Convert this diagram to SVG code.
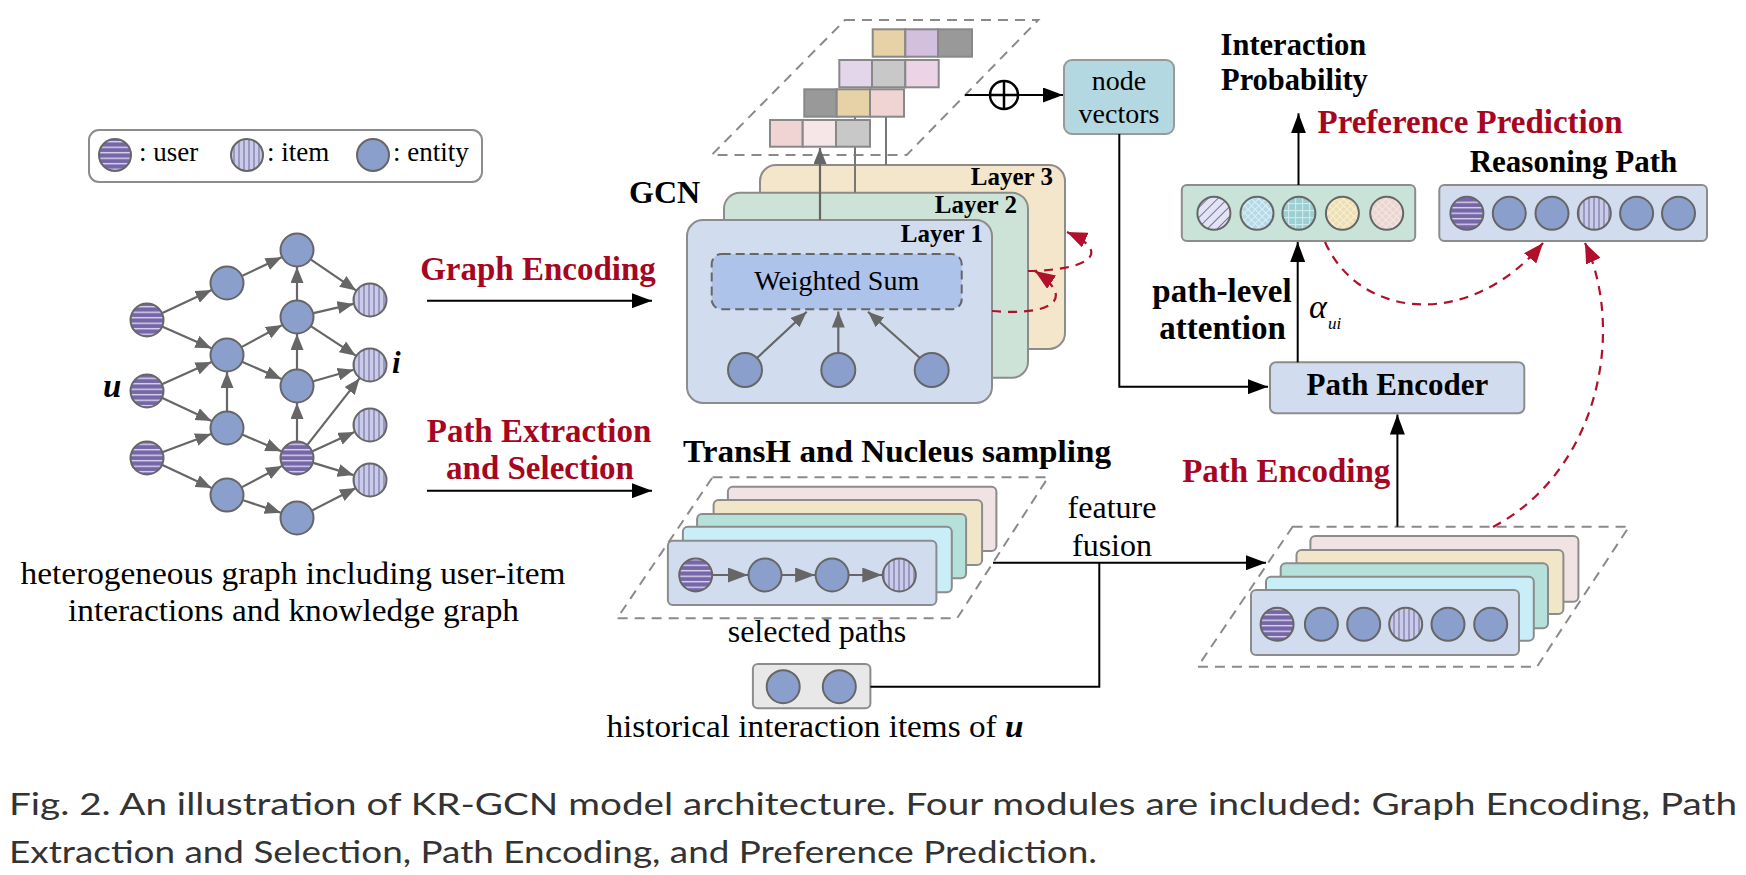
<svg xmlns="http://www.w3.org/2000/svg" width="1746" height="875" viewBox="0 0 1746 875">
<style>
.t{font-family:"Liberation Serif","Times New Roman",serif;fill:#000}
.b{font-weight:bold}
.red{fill:#a6061f}
.cap{font-family:Lato,"Open Sans","Liberation Sans",sans-serif;fill:#333;font-size:30px}
.ge{stroke:#666;stroke-width:2.2;fill:none}
.nd{stroke:#666;stroke-width:2}
.ent{fill:#8a9fcb}
.usr{fill:url(#pu)}
.itm{fill:url(#pi)}
.box{stroke:#8c8c8c;stroke-width:2}
.par{fill:none;stroke:#8a8a8a;stroke-width:2;stroke-dasharray:10 7}
.bl{stroke:#000;stroke-width:2;fill:none}
.rd{stroke:#b0102a;stroke-width:2.2;fill:none;stroke-dasharray:9 7}
.cell{stroke:#888;stroke-width:2}
</style>
<defs>
<pattern id="pu" patternUnits="userSpaceOnUse" width="8" height="5.5"><rect width="8" height="5.5" fill="#7566a8"/><rect y="3.6" width="8" height="1.3" fill="#e3ddf4"/></pattern>
<pattern id="pi" patternUnits="userSpaceOnUse" width="5" height="8"><rect width="5" height="8" fill="#c9cbe8"/><rect x="3.4" width="1.2" height="8" fill="#7c79a8"/></pattern>
<pattern id="p1" patternUnits="userSpaceOnUse" width="7" height="7" patternTransform="rotate(45)"><rect width="7" height="7" fill="#e2e4f3"/><rect width="1" height="7" fill="#7a70a6"/></pattern>
<pattern id="p2" patternUnits="userSpaceOnUse" width="5" height="5" patternTransform="rotate(45)"><rect width="5" height="5" fill="#b5d9e6"/><rect width="1" height="5" fill="#dbeff6"/><rect width="5" height="1" fill="#dbeff6"/></pattern>
<pattern id="p3" patternUnits="userSpaceOnUse" width="7" height="7"><rect width="7" height="7" fill="#9ccfd1"/><rect width="1.2" height="7" fill="#cde9ea"/><rect width="7" height="1.2" fill="#cde9ea"/></pattern>
<pattern id="p4" patternUnits="userSpaceOnUse" width="5" height="5" patternTransform="rotate(45)"><rect width="5" height="5" fill="#ecdfb2"/><rect width="1" height="5" fill="#f8f0da"/><rect width="5" height="1" fill="#f8f0da"/></pattern>
<pattern id="p5" patternUnits="userSpaceOnUse" width="5" height="5" patternTransform="rotate(45)"><rect width="5" height="5" fill="#ead5d0"/><rect width="1" height="5" fill="#f3e6e3"/><rect width="5" height="1" fill="#f3e6e3"/></pattern>
<marker id="ag" markerUnits="userSpaceOnUse" markerWidth="16" markerHeight="13" refX="16" refY="6.5" orient="auto"><path d="M0,0 L16,6.5 L0,13 z" fill="#666"/></marker>
<marker id="ag2" markerUnits="userSpaceOnUse" markerWidth="20" markerHeight="15" refX="20" refY="7.5" orient="auto"><path d="M0,0 L20,7.5 L0,15 z" fill="#666"/></marker>
<marker id="ab" markerUnits="userSpaceOnUse" markerWidth="20" markerHeight="15" refX="20" refY="7.5" orient="auto"><path d="M0,0 L20,7.5 L0,15 z" fill="#000"/></marker>
<marker id="ar" markerUnits="userSpaceOnUse" markerWidth="20" markerHeight="16" refX="20" refY="8" orient="auto"><path d="M0,0 L20,8 L0,16 z" fill="#b0102a"/></marker>
</defs>
<rect width="1746" height="875" fill="#fff"/>

<!-- Legend -->
<g id="legend">
<rect x="89" y="130" width="393" height="52" rx="10" fill="#fff" stroke="#8c8c8c" stroke-width="2"/>
<circle cx="115" cy="155" r="16" class="nd usr"/>
<text x="139" y="161" class="t" font-size="27">: user</text>
<circle cx="247" cy="155" r="16" class="nd itm"/>
<text x="267" y="161" class="t" font-size="27">: item</text>
<circle cx="373" cy="155" r="16" class="nd ent"/>
<text x="393" y="161" class="t" font-size="27">: entity</text>
</g>

<!-- heterogeneous graph -->
<g id="graph-edges">
<line x1="162.4" y1="312.9" x2="211.6" y2="290.1" class="ge" marker-end="url(#ag)"/>
<line x1="162.6" y1="326.8" x2="211.4" y2="348.2" class="ge" marker-end="url(#ag)"/>
<line x1="162.5" y1="384" x2="211.5" y2="362" class="ge" marker-end="url(#ag)"/>
<line x1="162.4" y1="398.1" x2="211.6" y2="420.9" class="ge" marker-end="url(#ag)"/>
<line x1="162.9" y1="452" x2="211.1" y2="434" class="ge" marker-end="url(#ag)"/>
<line x1="162.4" y1="465.1" x2="211.6" y2="487.9" class="ge" marker-end="url(#ag)"/>
<line x1="242.4" y1="275.8" x2="281.6" y2="257.2" class="ge" marker-end="url(#ag)"/>
<line x1="241.9" y1="346.9" x2="282.1" y2="325.1" class="ge" marker-end="url(#ag)"/>
<line x1="242.5" y1="361.9" x2="281.5" y2="379.1" class="ge" marker-end="url(#ag)"/>
<line x1="227" y1="411.5" x2="227" y2="372" class="ge" marker-end="url(#ag)"/>
<line x1="242.6" y1="434.7" x2="281.4" y2="451.3" class="ge" marker-end="url(#ag)"/>
<line x1="242" y1="487.1" x2="282" y2="465.9" class="ge" marker-end="url(#ag)"/>
<line x1="243.2" y1="500.3" x2="280.8" y2="512.7" class="ge" marker-end="url(#ag)"/>
<line x1="311" y1="259.6" x2="356" y2="290.4" class="ge" marker-end="url(#ag)"/>
<line x1="297" y1="300.5" x2="297" y2="267" class="ge" marker-end="url(#ag)"/>
<line x1="313.5" y1="313.1" x2="353.5" y2="303.9" class="ge" marker-end="url(#ag)"/>
<line x1="311.2" y1="326.3" x2="355.8" y2="355.7" class="ge" marker-end="url(#ag)"/>
<line x1="297" y1="369.5" x2="297" y2="334" class="ge" marker-end="url(#ag)"/>
<line x1="313.3" y1="381.3" x2="353.7" y2="369.7" class="ge" marker-end="url(#ag)"/>
<line x1="297" y1="441.5" x2="297" y2="403" class="ge" marker-end="url(#ag)"/>
<line x1="307.5" y1="444.6" x2="359.5" y2="378.4" class="ge" stroke-width="1.5" marker-end="url(#ag)"/>
<line x1="312.5" y1="451.2" x2="354.5" y2="432" class="ge" marker-end="url(#ag)"/>
<line x1="313.3" y1="462.9" x2="353.7" y2="475.1" class="ge" marker-end="url(#ag)"/>
<line x1="312.1" y1="510.4" x2="355.9" y2="487.9" class="ge" marker-end="url(#ag)"/>
</g>
<g id="graph-nodes">
<circle cx="147" cy="320" r="16.5" class="nd usr"/>
<circle cx="147" cy="391" r="16.5" class="nd usr"/>
<circle cx="147" cy="458" r="16.5" class="nd usr"/>
<circle cx="227" cy="283" r="16.5" class="nd ent"/>
<circle cx="227" cy="355" r="16.5" class="nd ent"/>
<circle cx="227" cy="428" r="16.5" class="nd ent"/>
<circle cx="227" cy="495" r="16.5" class="nd ent"/>
<circle cx="297" cy="250" r="16.5" class="nd ent"/>
<circle cx="297" cy="317" r="16.5" class="nd ent"/>
<circle cx="297" cy="386" r="16.5" class="nd ent"/>
<circle cx="297" cy="458" r="16.5" class="nd usr"/>
<circle cx="297" cy="518" r="16.5" class="nd ent"/>
<circle cx="370" cy="300" r="16.5" class="nd itm"/>
<circle cx="370" cy="365" r="16.5" class="nd itm"/>
<circle cx="370" cy="425" r="16.5" class="nd itm"/>
<circle cx="370" cy="480" r="16.5" class="nd itm"/>
<text x="103" y="397" class="t b" font-size="33" font-style="italic">u</text>
<text x="392" y="373" class="t b" font-size="31" font-style="italic">i</text>
</g>
<g id="graph-caption">
<text x="293" y="584" class="t" font-size="31" text-anchor="middle" textLength="545" lengthAdjust="spacingAndGlyphs">heterogeneous graph including user-item</text>
<text x="293.5" y="620.5" class="t" font-size="31" text-anchor="middle" textLength="451" lengthAdjust="spacingAndGlyphs">interactions and knowledge graph</text>
</g>

<!-- stage labels -->
<g id="graph-encoding-label">
<text x="538" y="280" class="t b red" font-size="33" text-anchor="middle">Graph Encoding</text>
</g>
<g id="path-extraction-label">
<text x="539" y="441.7" class="t b red" font-size="33" text-anchor="middle">Path Extraction</text>
<text x="540" y="479.3" class="t b red" font-size="33" text-anchor="middle">and Selection</text>
</g>

<!-- GCN -->
<g id="gcn">
<text x="629" y="203" class="t b" font-size="32">GCN</text>
<rect x="760" y="165" width="305" height="184" rx="16" fill="#f3e6ca" class="box"/>
<text x="1053" y="185" class="t b" font-size="25" text-anchor="end">Layer 3</text>
<rect x="724" y="192.7" width="304" height="185" rx="16" fill="#cde3d8" class="box"/>
<text x="1017" y="213" class="t b" font-size="25" text-anchor="end">Layer 2</text>
<rect x="687" y="220" width="305" height="183" rx="16" fill="#d1ddee" class="box"/>
<text x="983" y="242" class="t b" font-size="25" text-anchor="end">Layer 1</text>
<rect x="711.7" y="254" width="250" height="55.3" rx="10" fill="#aec3ea" stroke="#666" stroke-width="2" stroke-dasharray="9 5"/>
<text x="836.7" y="290" class="t" font-size="28" text-anchor="middle">Weighted Sum</text>
<line x1="757" y1="358" x2="806.7" y2="311.7" class="ge" marker-end="url(#ag)"/>
<line x1="838.3" y1="353" x2="838.3" y2="311.5" class="ge" marker-end="url(#ag)"/>
<line x1="920" y1="358" x2="868" y2="311.7" class="ge" marker-end="url(#ag)"/>
<circle cx="745" cy="370" r="17" class="nd ent"/>
<circle cx="838.3" cy="370" r="17" class="nd ent"/>
<circle cx="931.7" cy="370" r="17" class="nd ent"/>
</g>

<!-- embedding stack -->
<g id="embeddings">
<path d="M845,20 L1038.3,20 L906.7,155 L711.7,155 Z" class="par"/>
<line x1="820" y1="220" x2="820" y2="148" class="ge" marker-end="url(#ag)"/>
<line x1="855" y1="192.7" x2="855" y2="116.7" stroke="#777" stroke-width="2"/>
<line x1="886" y1="165" x2="886" y2="116.7" stroke="#777" stroke-width="2"/>
<rect x="872.7" y="29.3" width="32.6" height="27.4" fill="#e6d2a6" class="cell"/>
<rect x="905.3" y="29.3" width="32.7" height="27.4" fill="#d3c0de" class="cell"/>
<rect x="938" y="29.3" width="34" height="27.4" fill="#999" class="cell"/>
<rect x="839.3" y="60" width="32.7" height="27.3" fill="#e3d6ea" class="cell"/>
<rect x="872" y="60" width="33.3" height="27.3" fill="#c8c8c8" class="cell"/>
<rect x="905.3" y="60" width="33.4" height="27.3" fill="#ecd4e6" class="cell"/>
<rect x="804.3" y="89.3" width="32.4" height="27.4" fill="#999" class="cell"/>
<rect x="836.7" y="89.3" width="33.3" height="27.4" fill="#e6d2a6" class="cell"/>
<rect x="870" y="89.3" width="34" height="27.4" fill="#f0d4d4" class="cell"/>
<rect x="770" y="120" width="32.7" height="26.7" fill="#f0d4d4" class="cell"/>
<rect x="802.7" y="120" width="33.3" height="26.7" fill="#f6e6e8" class="cell"/>
<rect x="836" y="120" width="34" height="26.7" fill="#c8c8c8" class="cell"/>
</g>

<!-- node vectors -->
<g id="node-vectors">
<rect x="1064" y="60" width="110" height="74" rx="8" fill="#b4d8e1" stroke="#999" stroke-width="2"/>
<text x="1119" y="90" class="t" font-size="28" text-anchor="middle">node</text>
<text x="1119" y="123" class="t" font-size="28" text-anchor="middle">vectors</text>
</g>

<!-- preference prediction -->
<g id="interaction-probability">
<text x="1220.6" y="55" class="t b" font-size="30.5">Interaction</text>
<text x="1221" y="90" class="t b" font-size="30.5">Probability</text>
<text x="1317.5" y="133.3" class="t b red" font-size="33">Preference Prediction</text>
</g>
<g id="prob-vector">
<rect x="1181.8" y="185" width="233.4" height="56" rx="5" fill="#c9e3d8" class="box"/>
<circle cx="1213.9" cy="213.3" r="16.5" class="nd" fill="url(#p1)"/>
<circle cx="1257" cy="213.3" r="16.5" class="nd" fill="url(#p2)"/>
<circle cx="1298.9" cy="213.3" r="16.5" class="nd" fill="url(#p3)"/>
<circle cx="1342.4" cy="213.3" r="16.5" class="nd" fill="url(#p4)"/>
<circle cx="1386.7" cy="213.3" r="16.5" class="nd" fill="url(#p5)"/>
</g>
<g id="reasoning-path">
<text x="1469.7" y="171.7" class="t b" font-size="31">Reasoning Path</text>
<rect x="1439.3" y="185" width="267.7" height="56" rx="5" fill="#d1ddee" class="box"/>
<circle cx="1466.9" cy="213.3" r="16.5" class="nd usr"/>
<circle cx="1509.3" cy="213.3" r="16.5" class="nd ent"/>
<circle cx="1552" cy="213.3" r="16.5" class="nd ent"/>
<circle cx="1594.3" cy="213.3" r="16.5" class="nd itm"/>
<circle cx="1636.6" cy="213.3" r="16.5" class="nd ent"/>
<circle cx="1678.5" cy="213.3" r="16.5" class="nd ent"/>
</g>
<g id="attention-label">
<text x="1222" y="302" class="t b" font-size="33" text-anchor="middle">path-level</text>
<text x="1222.6" y="339" class="t b" font-size="33" text-anchor="middle">attention</text>
<text x="1309" y="318" class="t" font-size="34" font-style="italic">α</text>
<text x="1328" y="329" class="t" font-size="17" font-style="italic">ui</text>
</g>

<!-- path encoder -->
<g id="path-encoder">
<rect x="1270" y="362.3" width="254.3" height="51" rx="6" fill="#d1ddee" class="box"/>
<text x="1397.4" y="395" class="t b" font-size="31" text-anchor="middle">Path Encoder</text>
</g>
<g id="path-encoding-label">
<text x="1182.2" y="482.3" class="t b red" font-size="33">Path Encoding</text>
</g>

<!-- encoded paths -->
<g id="encoded-paths">
<path d="M1292.6,526.7 L1629,526.7 L1537,666.7 L1197.7,666.7 Z" class="par"/>
<rect x="1310.4" y="536" width="268" height="65.7" rx="5" fill="#f1e3e3" class="box"/>
<rect x="1296.5" y="550" width="266.9" height="64" rx="5" fill="#f2e6c9" class="box"/>
<rect x="1280.7" y="563.3" width="267.3" height="65" rx="5" fill="#b6e0da" class="box"/>
<rect x="1266" y="576.7" width="267.8" height="64" rx="5" fill="#caeef7" class="box"/>
<rect x="1251" y="590" width="268" height="65" rx="5" fill="#d1ddee" class="box"/>
<circle cx="1277.1" cy="624.3" r="16.5" class="nd usr"/>
<circle cx="1321.4" cy="624.3" r="16.5" class="nd ent"/>
<circle cx="1363.7" cy="624.3" r="16.5" class="nd ent"/>
<circle cx="1405.7" cy="624.3" r="16.5" class="nd itm"/>
<circle cx="1448" cy="624.3" r="16.5" class="nd ent"/>
<circle cx="1490.7" cy="624.3" r="16.5" class="nd ent"/>
</g>

<!-- selected paths -->
<g id="selected-paths">
<text x="683" y="461.7" class="t b" font-size="31" textLength="428" lengthAdjust="spacingAndGlyphs">TransH and Nucleus sampling</text>
<path d="M712.5,477.3 L1048.2,477.3 L957.1,618.3 L617.1,618.3 Z" class="par"/>
<rect x="727.9" y="486.7" width="268.5" height="64.3" rx="5" fill="#f1e3e3" class="box"/>
<rect x="713.6" y="500" width="268.5" height="65" rx="5" fill="#f2e6c9" class="box"/>
<rect x="697.1" y="514" width="269" height="64.3" rx="5" fill="#b6e0da" class="box"/>
<rect x="682.9" y="526.7" width="268.9" height="65.6" rx="5" fill="#caeef7" class="box"/>
<rect x="667.9" y="540.7" width="268.5" height="64.3" rx="5" fill="#d1ddee" class="box"/>
<line x1="712.7" y1="575" x2="748" y2="575" class="ge" marker-end="url(#ag2)"/>
<line x1="782" y1="575" x2="815.1" y2="575" class="ge" marker-end="url(#ag2)"/>
<line x1="849.1" y1="575" x2="882.3" y2="575" class="ge" marker-end="url(#ag2)"/>
<circle cx="695.7" cy="575" r="16.5" class="nd usr"/>
<circle cx="765" cy="575" r="16.5" class="nd ent"/>
<circle cx="832.1" cy="575" r="16.5" class="nd ent"/>
<circle cx="899.3" cy="575" r="16.5" class="nd itm"/>
<text x="817" y="641.7" class="t" font-size="32" text-anchor="middle">selected paths</text>
</g>

<!-- historical items -->
<g id="historical-items">
<rect x="752.9" y="664" width="117.5" height="44.3" rx="5" fill="#e8e8e8" class="box"/>
<circle cx="783.2" cy="686.7" r="16.5" class="nd ent"/>
<circle cx="839.3" cy="686.7" r="16.5" class="nd ent"/>
<text x="606.4" y="736.7" class="t" font-size="32" textLength="417" lengthAdjust="spacingAndGlyphs">historical interaction items of <tspan font-weight="bold" font-style="italic">u</tspan></text>
</g>
<g id="feature-fusion-label">
<text x="1112" y="517.5" class="t" font-size="32" text-anchor="middle">feature</text>
<text x="1112" y="555.5" class="t" font-size="32" text-anchor="middle">fusion</text>
</g>

<!-- connectors -->
<g id="connectors">
<line x1="427" y1="300.7" x2="652" y2="300.7" class="bl" marker-end="url(#ab)"/>
<line x1="427" y1="490.7" x2="652" y2="490.7" class="bl" marker-end="url(#ab)"/>
<line x1="965" y1="95" x2="1063" y2="95" class="bl" marker-end="url(#ab)"/>
<circle cx="1004" cy="95" r="14" fill="#fff" stroke="#000" stroke-width="2.5"/>
<line x1="990" y1="95" x2="1018" y2="95" stroke="#000" stroke-width="2.5"/>
<line x1="1004" y1="81" x2="1004" y2="109" stroke="#000" stroke-width="2.5"/>
<polyline points="1119.3,134 1119.3,386.7 1268,386.7" class="bl" marker-end="url(#ab)"/>
<line x1="1297.7" y1="362.3" x2="1297.7" y2="242" class="bl" marker-end="url(#ab)"/>
<line x1="1298.5" y1="185" x2="1298.5" y2="113.3" class="bl" marker-end="url(#ab)"/>
<line x1="1397.4" y1="526.7" x2="1397.4" y2="414.5" class="bl" marker-end="url(#ab)"/>
<line x1="993" y1="562.7" x2="1266" y2="562.7" class="bl" marker-end="url(#ab)"/>
<polyline points="870.4,686.7 1099.3,686.7 1099.3,562.7" class="bl"/>
<path d="M992,311 C1050,316 1078,300 1035,271" class="rd" marker-end="url(#ar)"/>
<path d="M1028,271 C1092,270 1112,252 1067,232" class="rd" marker-end="url(#ar)"/>
<path d="M1325,242 C1360,320 1470,330 1543,243" class="rd" marker-end="url(#ar)"/>
<path d="M1493,527 C1600,470 1625,330 1585,243" class="rd" marker-end="url(#ar)"/>
</g>

<!-- figure caption -->
<g id="figure-caption">
<text x="9" y="815" class="cap" textLength="1728" lengthAdjust="spacingAndGlyphs">Fig. 2. An illustration of KR-GCN model architecture. Four modules are included: Graph Encoding, Path</text>
<text x="9" y="863" class="cap" textLength="1088" lengthAdjust="spacingAndGlyphs">Extraction and Selection, Path Encoding, and Preference Prediction.</text>
</g>
</svg>
